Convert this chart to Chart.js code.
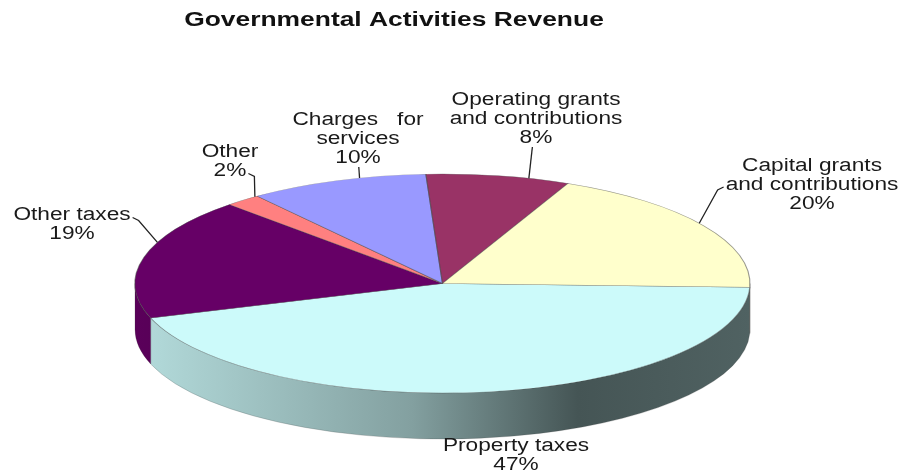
<!DOCTYPE html>
<html>
<head>
<meta charset="utf-8">
<title>Governmental Activities Revenue</title>
<script src="https://cdn.jsdelivr.net/npm/chart.js@4.4.1/dist/chart.umd.min.js"></script>
<style>
  html, body { margin: 0; padding: 0; background: #fff; }
  #revenuePie { display: block; }
</style>
</head>
<body>
<canvas id="revenuePie" width="906" height="474"></canvas>
<script>
// revenue sources and their share of the total, in percent
var sources = ['Property taxes', 'Other taxes', 'Other', 'Charges for services',
  'Operating grants and contributions', 'Capital grants and contributions'];
var shares = [47, 19, 2, 10, 8, 20];
// label text per slice, broken into lines (the percent line is added from shares)
var labelLines = [
  ['Property taxes'],
  ['Other taxes'],
  ['Other'],
  ['Charges   for', 'services'],
  ['Operating grants', 'and contributions'],
  ['Capital grants', 'and contributions']
];

var sliceColors = ['#ccfafa', '#660066', '#ff8080', '#9999ff', '#993366', '#ffffcc'];
// label block centres and where their leader line leaves the text
var labelCenter = [[516, 456], [72, 225], [230, 162], [358, 139], [536, 119], [812, 185]];
var leaderFrom = [null, ['right', 0], ['right', 1], ['below'], ['below'], ['left', 1]];
// tilted pie: centre, radii of the top face and the wall height
var pie3d = { cx: 442.5, cy: 283.5, rx: 307.5, ry: 109.5, depth: 46 };

function toRgb(hex) {
  var n = parseInt(hex.slice(1), 16);
  return [(n >> 16) & 255, (n >> 8) & 255, n & 255];
}
function shade(hex, k) {
  var c = toRgb(hex);
  return 'rgb(' + Math.round(c[0] * k) + ',' + Math.round(c[1] * k) + ',' + Math.round(c[2] * k) + ')';
}
function rimPoint(a) {
  return { x: pie3d.cx + pie3d.rx * Math.cos(a), y: pie3d.cy + pie3d.ry * Math.sin(a) };
}

// side wall of one slice between angles b1..b2 (front half only)
function drawWall(ctx, b1, b2, color) {
  var p = pie3d;
  var grad = ctx.createLinearGradient(p.cx - p.rx, 0, p.cx + p.rx, 0);
  grad.addColorStop(0, shade(color, 0.88));
  grad.addColorStop(0.45, shade(color, 0.64));
  grad.addColorStop(0.72, shade(color, 0.34));
  grad.addColorStop(1, shade(color, 0.39));
  ctx.beginPath();
  ctx.ellipse(p.cx, p.cy, p.rx, p.ry, 0, b1, b2, false);
  ctx.ellipse(p.cx, p.cy + p.depth, p.rx, p.ry, 0, b2, b1, true);
  ctx.closePath();
  ctx.fillStyle = grad;
  ctx.fill();
  ctx.strokeStyle = 'rgba(60,60,60,0.35)';
  ctx.lineWidth = 0.6;
  ctx.stroke();
}

// nearest point on a slice's rim to (x, y)
function nearestRim(arc, x, y) {
  var a1 = arc.startAngle, a2 = arc.endAngle;
  var pad = (a2 - a1) * 0.08;
  var best = null, bestD = Infinity;
  for (var k = 0; k <= 200; k++) {
    var a = a1 + pad + (a2 - a1 - 2 * pad) * k / 200;
    var pt = rimPoint(a);
    var d = Math.hypot(pt.x - x, pt.y - y);
    if (d < bestD) { bestD = d; best = pt; }
  }
  return best;
}

var tiltPlugin = {
  id: 'tilt',
  beforeDatasetsDraw: function (chart) {
    var ctx = chart.ctx;
    var arcs = chart.getDatasetMeta(0).data;
    arcs.forEach(function (arc, i) {
      [[0, Math.PI], [2 * Math.PI, 3 * Math.PI]].forEach(function (front) {
        var b1 = Math.max(arc.startAngle, front[0]);
        var b2 = Math.min(arc.endAngle, front[1]);
        if (b2 > b1) drawWall(ctx, b1, b2, sliceColors[i]);
      });
    });
    // squash the round pie into the top face ellipse
    var el = arcs[0];
    ctx.save();
    ctx.translate(pie3d.cx, pie3d.cy);
    ctx.scale(pie3d.rx / el.outerRadius, pie3d.ry / el.outerRadius);
    ctx.translate(-el.x, -el.y);
  },
  afterDatasetsDraw: function (chart) {
    chart.ctx.restore();
  },
  afterDraw: function (chart) {
    var ctx = chart.ctx;
    var arcs = chart.getDatasetMeta(0).data;

    ctx.save();
    ctx.fillStyle = '#111';
    ctx.textAlign = 'center';
    ctx.textBaseline = 'middle';
    ctx.font = 'bold 20px "Liberation Sans", Arial, sans-serif';
    ctx.translate(394, 20);
    ctx.scale(1.32, 1);
    ctx.fillText('Governmental Activities Revenue', 0, 0);
    ctx.restore();

    var lineH = 19, stretch = 1.26;
    ctx.save();
    ctx.font = '18px "Liberation Sans", Arial, sans-serif';
    ctx.textAlign = 'center';
    ctx.textBaseline = 'middle';
    arcs.forEach(function (arc, i) {
      var lines = labelLines[i].concat(shares[i] + '%');
      var c = labelCenter[i];
      var top = c[1] - (lines.length - 1) * lineH / 2;
      ctx.fillStyle = '#1a1a1a';
      lines.forEach(function (t, j) {
        ctx.save();
        ctx.translate(c[0], top + j * lineH);
        ctx.scale(stretch, 1);
        ctx.fillText(t, 0, 0);
        ctx.restore();
      });

      var lf = leaderFrom[i];
      if (!lf) return;
      var start, hook;
      if (lf[0] === 'below') {
        var bottom = top + (lines.length - 1) * lineH + 9;
        var endB = nearestRim(arc, c[0], bottom);
        start = { x: endB.x, y: bottom };
        hook = start;
      } else {
        var ly = top + lf[1] * lineH;
        var w = ctx.measureText(lines[lf[1]]).width * stretch / 2;
        var dir = lf[0] === 'right' ? 1 : -1;
        start = { x: c[0] + dir * (w + 2), y: ly + 2 };
        hook = { x: start.x + dir * 6, y: ly + 5 };
      }
      var end = nearestRim(arc, hook.x, hook.y);
      ctx.beginPath();
      ctx.moveTo(start.x, start.y);
      ctx.lineTo(hook.x, hook.y);
      ctx.lineTo(end.x, end.y);
      ctx.strokeStyle = '#222';
      ctx.lineWidth = 1.3;
      ctx.stroke();
    });
    ctx.restore();
  }
};

new Chart(document.getElementById('revenuePie'), {
  type: 'pie',
  data: {
    labels: sources,
    datasets: [{
      data: shares,
      backgroundColor: sliceColors,
      borderColor: 'rgba(70,70,70,0.55)',
      borderWidth: 0.8,
      clip: false
    }]
  },
  options: {
    responsive: false,
    animation: false,
    events: [],
    rotation: 92,
    layout: { padding: 30 },
    plugins: {
      legend: { display: false },
      tooltip: { enabled: false },
      title: { display: false }
    }
  },
  plugins: [tiltPlugin]
});
</script>
</body>
</html>
